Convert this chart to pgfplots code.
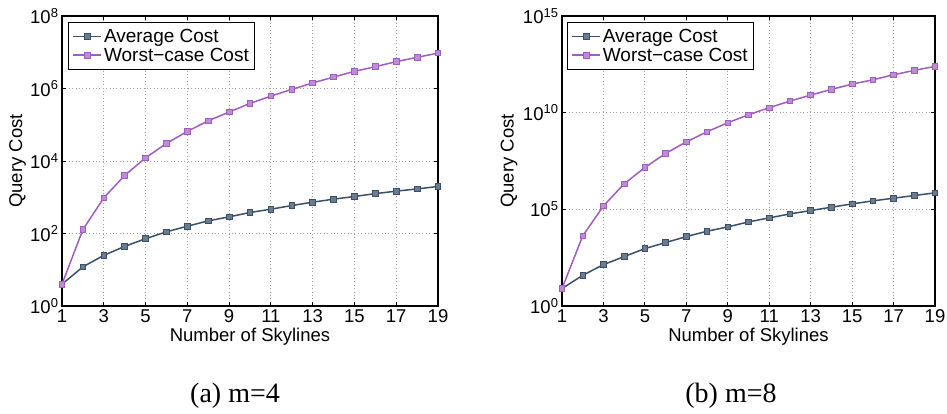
\documentclass[border=0pt]{standalone}
\usepackage{pgfplots}
\pgfplotsset{compat=1.18}
\usepackage{fontspec}
\setmainfont{Liberation Sans}
\newfontfamily\capfont{Liberation Serif}
\definecolor{avgc}{HTML}{3A5068}
\definecolor{wstc}{HTML}{A05CC0}
\begin{document}
\begin{tikzpicture}
\path[use as bounding box] (0,0) rectangle (947pt,414pt);
\begin{axis}[at={(62pt,108pt)}, anchor=south west,
  scale only axis, width=376pt, height=290pt,
  ymode=log, xmin=1, xmax=19, ymin=1, ymax=1e8,
  xtick={1,3,...,19},
  /pgf/number format/assume math mode=true,
  ytick={1,1e2,1e4,1e6,1e8},
  yticklabels={10\textsuperscript{0},10\textsuperscript{2},10\textsuperscript{4},10\textsuperscript{6},10\textsuperscript{8}},
  tick label style={font=\fontsize{18.5}{21}\selectfont},
  label style={font=\fontsize{18.5}{21}\selectfont},
  xlabel={Number of Skylines}, ylabel={Query Cost},
  xlabel style={at={(axis description cs:0.5,-0.107)}, anchor=center},
  ylabel style={at={(axis description cs:-0.118,0.5)}, anchor=center},
  axis line style={black, line width=1.2pt},
  tick style={black, line width=0.8pt}, tick align=inside, major tick length=4pt,
  minor tick num=0,
  grid=major, major grid style={gray!75, line width=0.8pt, dash pattern=on 0.8pt off 2.6pt},
  legend cell align=left,
  legend image code/.code={\draw[mark repeat=2,mark phase=2] plot coordinates {(0pt,0pt) (14pt,0pt) (28pt,0pt)};},
  legend style={at={(0.016,0.979)}, anchor=north west, draw=black, line width=1pt, font=\fontsize{19}{22}\selectfont, inner xsep=4pt, inner ysep=4.5pt, row sep=0pt}]
\addplot[avgc, line width=1.5pt, mark=square*, mark size=2.8pt, mark options={fill=avgc!75!white, draw=avgc, line width=0.8pt}] coordinates {(1,4) (2,12) (3,25) (4,44) (5,72) (6,111) (7,159) (8,223) (9,288) (10,379) (11,468) (12,590) (13,731) (14,885) (15,1050) (16,1260) (17,1470) (18,1700) (19,1980)};
\addplot[wstc, line width=1.5pt, mark=square*, mark size=2.8pt, mark options={fill=wstc!70!white, draw=wstc, line width=0.8pt}] coordinates {(1,4) (2,128) (3,962) (4,3990) (5,12250) (6,30500) (7,65500) (8,129000) (9,224000) (10,388000) (11,617000) (12,946000) (13,1.42e6) (14,2.07e6) (15,2.97e6) (16,4.0e6) (17,5.5e6) (18,7.24e6) (19,9.5e6)};
\legend{Average Cost, Worst−case Cost}
\end{axis}
\begin{axis}[at={(562pt,108pt)}, anchor=south west,
  scale only axis, width=373pt, height=290pt,
  ymode=log, xmin=1, xmax=19, ymin=1, ymax=1e15,
  xtick={1,3,...,19},
  /pgf/number format/assume math mode=true,
  ytick={1,1e5,1e10,1e15},
  yticklabels={10\textsuperscript{0},10\textsuperscript{5},10\textsuperscript{10},10\textsuperscript{15}},
  tick label style={font=\fontsize{18.5}{21}\selectfont},
  label style={font=\fontsize{18.5}{21}\selectfont},
  xlabel={Number of Skylines}, ylabel={Query Cost},
  xlabel style={at={(axis description cs:0.5,-0.107)}, anchor=center},
  ylabel style={at={(axis description cs:-0.142,0.5)}, anchor=center},
  axis line style={black, line width=1.2pt},
  tick style={black, line width=0.8pt}, tick align=inside, major tick length=4pt,
  minor tick num=0,
  grid=major, major grid style={gray!75, line width=0.8pt, dash pattern=on 0.8pt off 2.6pt},
  legend cell align=left,
  legend image code/.code={\draw[mark repeat=2,mark phase=2] plot coordinates {(0pt,0pt) (14pt,0pt) (28pt,0pt)};},
  legend style={at={(0.013,0.979)}, anchor=north west, draw=black, line width=1pt, font=\fontsize{19}{22}\selectfont, inner xsep=4pt, inner ysep=4.5pt, row sep=0pt}]
\addplot[avgc, line width=1.5pt, mark=square*, mark size=2.8pt, mark options={fill=avgc!75!white, draw=avgc, line width=0.8pt}] coordinates {(1,8) (2,38.7) (3,138) (4,359) (5,931) (6,1905) (7,3900) (8,7360) (9,12300) (10,22400) (11,36000) (12,58000) (13,86500) (14,129000) (15,191000) (16,274000) (17,376000) (18,518000) (19,711000)};
\addplot[wstc, line width=1.5pt, mark=square*, mark size=2.8pt, mark options={fill=wstc!70!white, draw=wstc, line width=0.8pt}] coordinates {(1,8) (2,4220) (3,150000) (4,2.08e6) (5,1.46e7) (6,7.74e7) (7,3.1e8) (8,1.03e9) (9,3.0e9) (10,7.8e9) (11,1.8e10) (12,3.98e10) (13,8.1e10) (14,1.6e11) (15,3.0e11) (16,5.0e11) (17,9.1e11) (18,1.54e12) (19,2.47e12)};
\legend{Average Cost, Worst−case Cost}
\end{axis}
\node[font=\capfont\fontsize{28}{30}\selectfont, anchor=base] at (235pt,11pt) {(a) m=4};
\node[font=\capfont\fontsize{28}{30}\selectfont, anchor=base] at (731pt,11pt) {(b) m=8};
\end{tikzpicture}
\end{document}
